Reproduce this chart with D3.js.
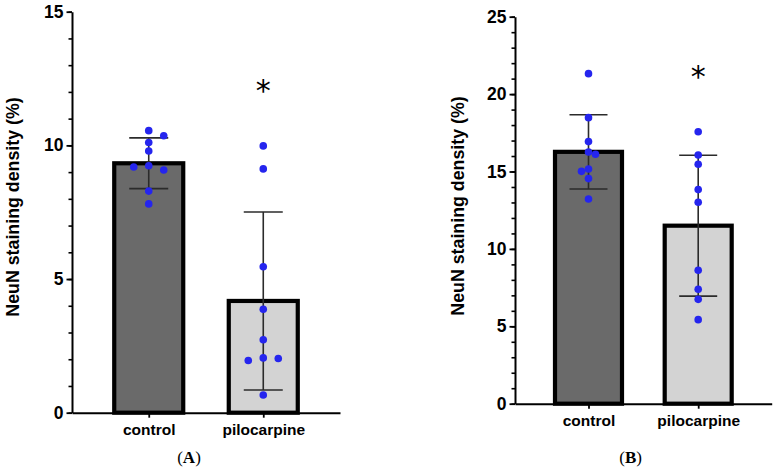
<!DOCTYPE html>
<html>
<head>
<meta charset="utf-8">
<script src="https://cdn.jsdelivr.net/npm/d3@7"></script>
<style>
  body { margin: 0; background: #fff; }
  svg { display: block; }
  .tick text { font-family: "Liberation Sans", Arial, sans-serif; font-weight: bold; }
  .y-title { font-family: "Liberation Sans", Arial, sans-serif; font-weight: bold; font-size: 17.8px; }
  .caption { font-family: "Liberation Serif", "Times New Roman", serif; font-size: 17px; }
  .star { font-family: "DejaVu Sans", sans-serif; font-size: 30px; }
</style>
</head>
<body>
<svg id="chart" width="777" height="472"></svg>
<script>
// Data ////////////////////////////////////////////////////////////////

var categories = ["control", "pilocarpine"];

// panel A
var meanA = [9.33, 4.18];
var sdA = [0.95, 3.33];
var controlA = [10.55, 10.36, 10.11, 9.79, 9.24, 9.19, 9.08, 8.29, 7.81];
var pilocarpineA = [9.98, 9.12, 5.46, 3.87, 2.73, 2.05, 2.03, 1.95, 0.66];
var yTicksA = [0, 5, 10, 15];

// panel B
var meanB = [16.27, 11.5];
var sdB = [2.4, 4.55];
var controlB = [21.32, 18.48, 16.93, 16.26, 16.11, 15.16, 15.01, 14.54, 13.22];
var pilocarpineB = [17.57, 16.07, 15.47, 13.83, 13.01, 8.62, 7.39, 6.74, 5.43];
var yTicksB = [0, 5, 10, 15, 20, 25];

var yTitle = "NeuN staining density (%)";

// Layout ///////////////////////////////////////////////////////////////

var panels = [
    {
        letter: "A", mean: meanA, sd: sdA, points: [controlA, pilocarpineA], ticks: yTicksA,
        left: 72, right: 340, bottom: 412.7, top: 11.7, yMax: 15,
        titleX: 12.5, titleY: 207, captionX: 189, captionY: 463,
        barWidth: 69, capWidth: 39, jitter: 15, gap: 7.5, star: 12.2
    },
    {
        letter: "B", mean: meanB, sd: sdB, points: [controlB, pilocarpineB], ticks: yTicksB,
        left: 515, right: 771.7, bottom: 403.7, top: 16.7, yMax: 25,
        titleX: 458, titleY: 206, captionX: 630.7, captionY: 463,
        barWidth: 67, capWidth: 38, jitter: 7, gap: 9, star: 21.4
    }
];

var fills = ["#6a6a6a", "#d3d3d3"];

var svg = d3.select("#chart");

// spread dots sideways when they would overlap (simple greedy swarm)
function swarm(values, scaleY, gap) {
    var placed = [];
    var prefer = 1;
    values.slice().sort(function(a, b) { return b - a; }).forEach(function(v) {
        var y = scaleY(v);
        var slots = [0, prefer, -prefer];
        for (var i = 0; i < slots.length; i++) {
            var s = slots[i];
            var hit = placed.some(function(p) { return p.slot == s && Math.abs(p.y - y) < gap; });
            if (!hit) {
                placed.push({value: v, y: y, slot: s});
                if (s != 0) prefer = -s;
                break;
            }
        }
    });
    return placed;
}

panels.forEach(function(p) {
    var g = svg.append("g");

    var scaleX = d3.scalePoint().domain(categories).range([p.left, p.right]).padding(0.67);
    var scaleY = d3.scaleLinear().domain([0, p.yMax]).range([p.bottom, p.top]);

    var rows = categories.map(function(c, i) {
        return {cat: c, mean: p.mean[i], sd: p.sd[i], points: p.points[i], fill: fills[i]};
    });

    // minor ticks every unit
    g.append("g")
        .attr("transform", "translate(" + p.left + ",0)")
        .call(d3.axisLeft(scaleY).tickValues(d3.range(0, p.yMax + 1)).tickSize(3.5).tickFormat(""))
        .call(function(a) { a.select(".domain").remove(); })
        .selectAll("line").attr("stroke", "#000").attr("stroke-width", 1.6);

    // y axis
    var yAxis = g.append("g")
        .attr("transform", "translate(" + p.left + ",0)")
        .call(d3.axisLeft(scaleY).tickValues(p.ticks).tickSize(5.5).tickSizeOuter(0).tickPadding(3));
    yAxis.select(".domain").attr("stroke-width", 2);
    yAxis.selectAll(".tick line").attr("stroke-width", 1.8);
    yAxis.selectAll(".tick text").attr("font-size", 17.5).attr("fill", "#000");

    // bars
    g.selectAll(".bar")
        .data(rows)
        .enter()
        .append("rect")
            .attr("class", "bar")
            .attr("x", function(d) { return scaleX(d.cat) - p.barWidth / 2; })
            .attr("y", function(d) { return scaleY(d.mean); })
            .attr("width", p.barWidth)
            .attr("height", function(d) { return scaleY(0) - scaleY(d.mean); })
            .attr("fill", function(d) { return d.fill; })
            .attr("stroke", "#000")
            .attr("stroke-width", 4.2);

    // x axis
    var xAxis = g.append("g")
        .attr("transform", "translate(0," + p.bottom + ")")
        .call(d3.axisBottom(scaleX).tickSize(5).tickSizeOuter(0).tickPadding(6));
    xAxis.select(".domain").attr("stroke-width", 2);
    xAxis.selectAll(".tick line").attr("stroke-width", 1.8);
    xAxis.selectAll(".tick text").attr("font-size", 15.5).attr("fill", "#000");

    // error bars (mean +/- sd)
    var err = g.selectAll(".err")
        .data(rows)
        .enter()
        .append("g")
            .attr("class", "err")
            .attr("stroke", "#2b2b2b")
            .attr("stroke-width", 1.6);
    err.append("line")
        .attr("x1", function(d) { return scaleX(d.cat); })
        .attr("x2", function(d) { return scaleX(d.cat); })
        .attr("y1", function(d) { return scaleY(d.mean + d.sd); })
        .attr("y2", function(d) { return scaleY(Math.max(0, d.mean - d.sd)); });
    [1, -1].forEach(function(sign) {
        err.append("line")
            .attr("x1", function(d) { return scaleX(d.cat) - p.capWidth / 2; })
            .attr("x2", function(d) { return scaleX(d.cat) + p.capWidth / 2; })
            .attr("y1", function(d) { return scaleY(d.mean + sign * d.sd); })
            .attr("y2", function(d) { return scaleY(d.mean + sign * d.sd); });
    });

    // individual animals
    rows.forEach(function(r) {
        g.selectAll(null)
            .data(swarm(r.points, scaleY, p.gap))
            .enter()
            .append("circle")
                .attr("cx", function(d) { return scaleX(r.cat) + d.slot * p.jitter; })
                .attr("cy", function(d) { return scaleY(d.value); })
                .attr("r", 3.8)
                .attr("fill", "#2525ee");
    });

    // significance mark
    g.append("text")
        .attr("class", "star")
        .attr("x", scaleX("pilocarpine"))
        .attr("y", scaleY(p.star))
        .attr("text-anchor", "middle")
        .attr("dy", "0.48em")
        .text("*");

    // y title
    g.append("text")
        .attr("class", "y-title")
        .attr("transform", "translate(" + p.titleX + "," + p.titleY + ") rotate(-90)")
        .attr("text-anchor", "middle")
        .attr("dy", "0.35em")
        .text(yTitle);

    // caption
    var cap = g.append("text")
        .attr("class", "caption")
        .attr("x", p.captionX)
        .attr("y", p.captionY)
        .attr("text-anchor", "middle");
    cap.append("tspan").text("(");
    cap.append("tspan").attr("font-weight", "bold").text(p.letter);
    cap.append("tspan").text(")");
});
</script>
</body>
</html>
